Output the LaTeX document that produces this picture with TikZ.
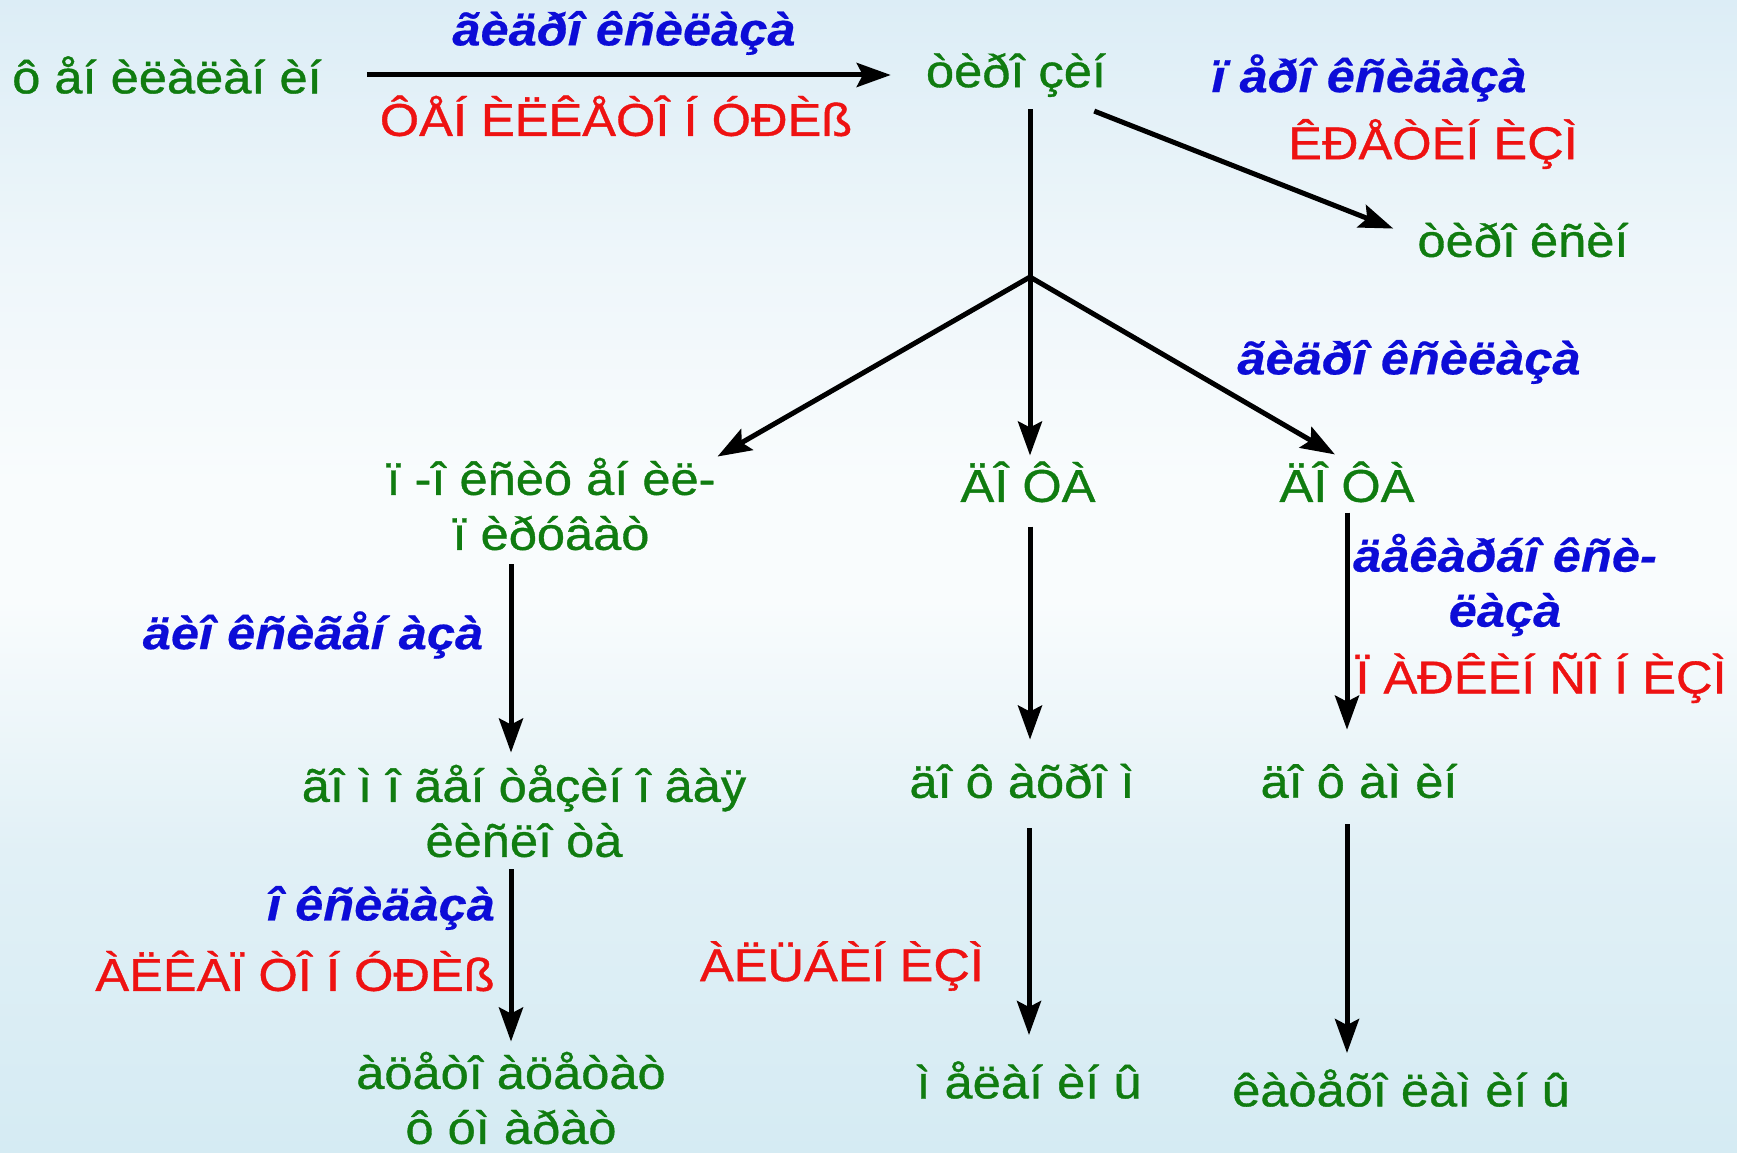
\documentclass[tikz,border=0pt]{standalone}
\usepackage{fontspec}
\setmainfont{Liberation Sans}
\newfontfamily\wfont[FakeStretch=1.1,FakeBold=0.8]{Liberation Sans}
\newfontfamily\wbfont[FakeStretch=1.1,FakeBold=0.4]{Liberation Sans}
\usetikzlibrary{arrows.meta}
\definecolor{tgreen}{RGB}{16,124,16}
\definecolor{tblue}{RGB}{12,12,215}
\definecolor{tred}{RGB}{238,18,18}
\definecolor{bgtop}{RGB}{220,237,246}
\definecolor{bgupper}{RGB}{238,246,250}
\definecolor{bgmid}{RGB}{249,252,253}
\definecolor{bglower}{RGB}{225,240,246}
\definecolor{bgbot}{RGB}{213,235,243}
\pgfdeclareverticalshading{bgshade}{100bp}{color(0bp)=(bgbot); color(25bp)=(bgbot); color(38bp)=(bglower); color(49bp)=(bgmid); color(54bp)=(bgmid); color(64bp)=(bgupper); color(75bp)=(bgtop); color(100bp)=(bgtop)}
\begin{document}
\begin{tikzpicture}[x=1pt,y=-1pt,
 sub/.style={text=tgreen,font=\wfont\fontsize{46}{55}\selectfont,align=center,inner sep=0pt},
 enz/.style={text=tblue,font=\wbfont\fontsize{46}{55}\selectfont\bfseries\itshape,align=center,inner sep=0pt},
 dis/.style={text=tred,font=\wfont\fontsize{46}{55}\selectfont,align=center,inner sep=0pt},
 arr/.style={line width=5pt,-{Stealth[length=34pt,width=24pt,inset=6pt]}},
 ln/.style={line width=5pt}]
\shade[shading=bgshade] (0,0) rectangle (1737,1153);
\useasboundingbox (0,0) rectangle (1737,1153);
% substances
\node[sub] (phe) at (167,75) {ô åí èëàëàí èí};
\node[sub] (tyr) at (1016,75) {òèðî çèí};
\node[sub] (thx) at (1523,240) {òèðî êñèí};
\node[sub] (hpp) at (551,504) {ï -î êñèô åí èë-\\ï èðóâàò};
\node[sub] (dopaA) at (1028,482) {ÄÎ ÔÀ};
\node[sub] (dopaB) at (1347,482) {ÄÎ ÔÀ};
\node[sub] (hga) at (524,811) {ãî ì î ãåí òåçèí î âàÿ\\êèñëî òà};
\node[sub] (dchr) at (1022,781) {äî ô àõðî ì};
\node[sub] (dam) at (1359,781) {äî ô àì èí};
\node[sub] (ace) at (511,1098) {àöåòî àöåòàò\\ô óì àðàò};
\node[sub] (mel) at (1029,1080) {ì åëàí èí û};
\node[sub] (cat) at (1401,1088) {êàòåõî ëàì èí û};
% enzymes and diseases
\node[enz] (e1) at (624,33) {ãèäðî êñèëàçà};
\node[dis] (d1) at (616,116) {ÔÅÍ ÈËÊÅÒÎ Í ÓÐÈß};
\node[enz] (e2) at (1369,78) {ï åðî êñèäàçà};
\node[dis] (d2) at (1433,144) {ÊÐÅÒÈÍ ÈÇÌ};
\node[enz] (e3) at (1409,362) {ãèäðî êñèëàçà};
\node[enz] (e4) at (313,635) {äèî êñèãåí àçà};
\node[enz] (e5) at (1505,585) {äåêàðáî êñè-\\ëàçà};
\node[dis] (d5) at (1541,678) {Ï ÀÐÊÈÍ ÑÎ Í ÈÇÌ};
\node[enz] (e6) at (381,908) {î êñèäàçà};
\node[dis] (d6) at (295,971) {ÀËÊÀÏ ÒÎ Í ÓÐÈß};
\node[dis] (d7) at (842,966) {ÀËÜÁÈÍ ÈÇÌ};
% connectors
\coordinate (b) at (1030,277);
\draw[arr,shorten <=45pt,shorten >=35pt] (phe.east) -- (tyr.west);
\draw[arr] ([xshift=-12pt,yshift=-14pt]tyr.south east) -- ([xshift=-24pt,yshift=-6pt]thx.north west);
\draw[ln,shorten <=12pt] (b |- tyr.south) -- (b);
\draw[arr,shorten >=2pt] (b) -- (hpp.north east);
\draw[arr,shorten >=6pt] (b) -- (b |- dopaA.north);
\draw[arr,shorten >=14pt] (b) -- (dopaB.north);
\draw[arr,shorten <=14pt,shorten >=12pt] (hpp.south -| ace) -- (hga.north -| ace);
\draw[arr,shorten <=12pt,shorten >=10pt] (hga.south -| ace) -- (ace.north);
\draw[arr,shorten <=24pt,shorten >=24pt] (dopaA.south -| b) -- (dchr.north -| b);
\draw[arr,shorten <=30pt,shorten >=26pt] (dchr.south -| mel) -- (mel.north);
\draw[arr,shorten <=10pt,shorten >=34pt] (dopaB.south) -- (dopaB.south |- dam.north);
\draw[arr,shorten <=26pt,shorten >=16pt] (dam.south -| dopaB) -- (dopaB |- cat.north);
\end{tikzpicture}
\end{document}
